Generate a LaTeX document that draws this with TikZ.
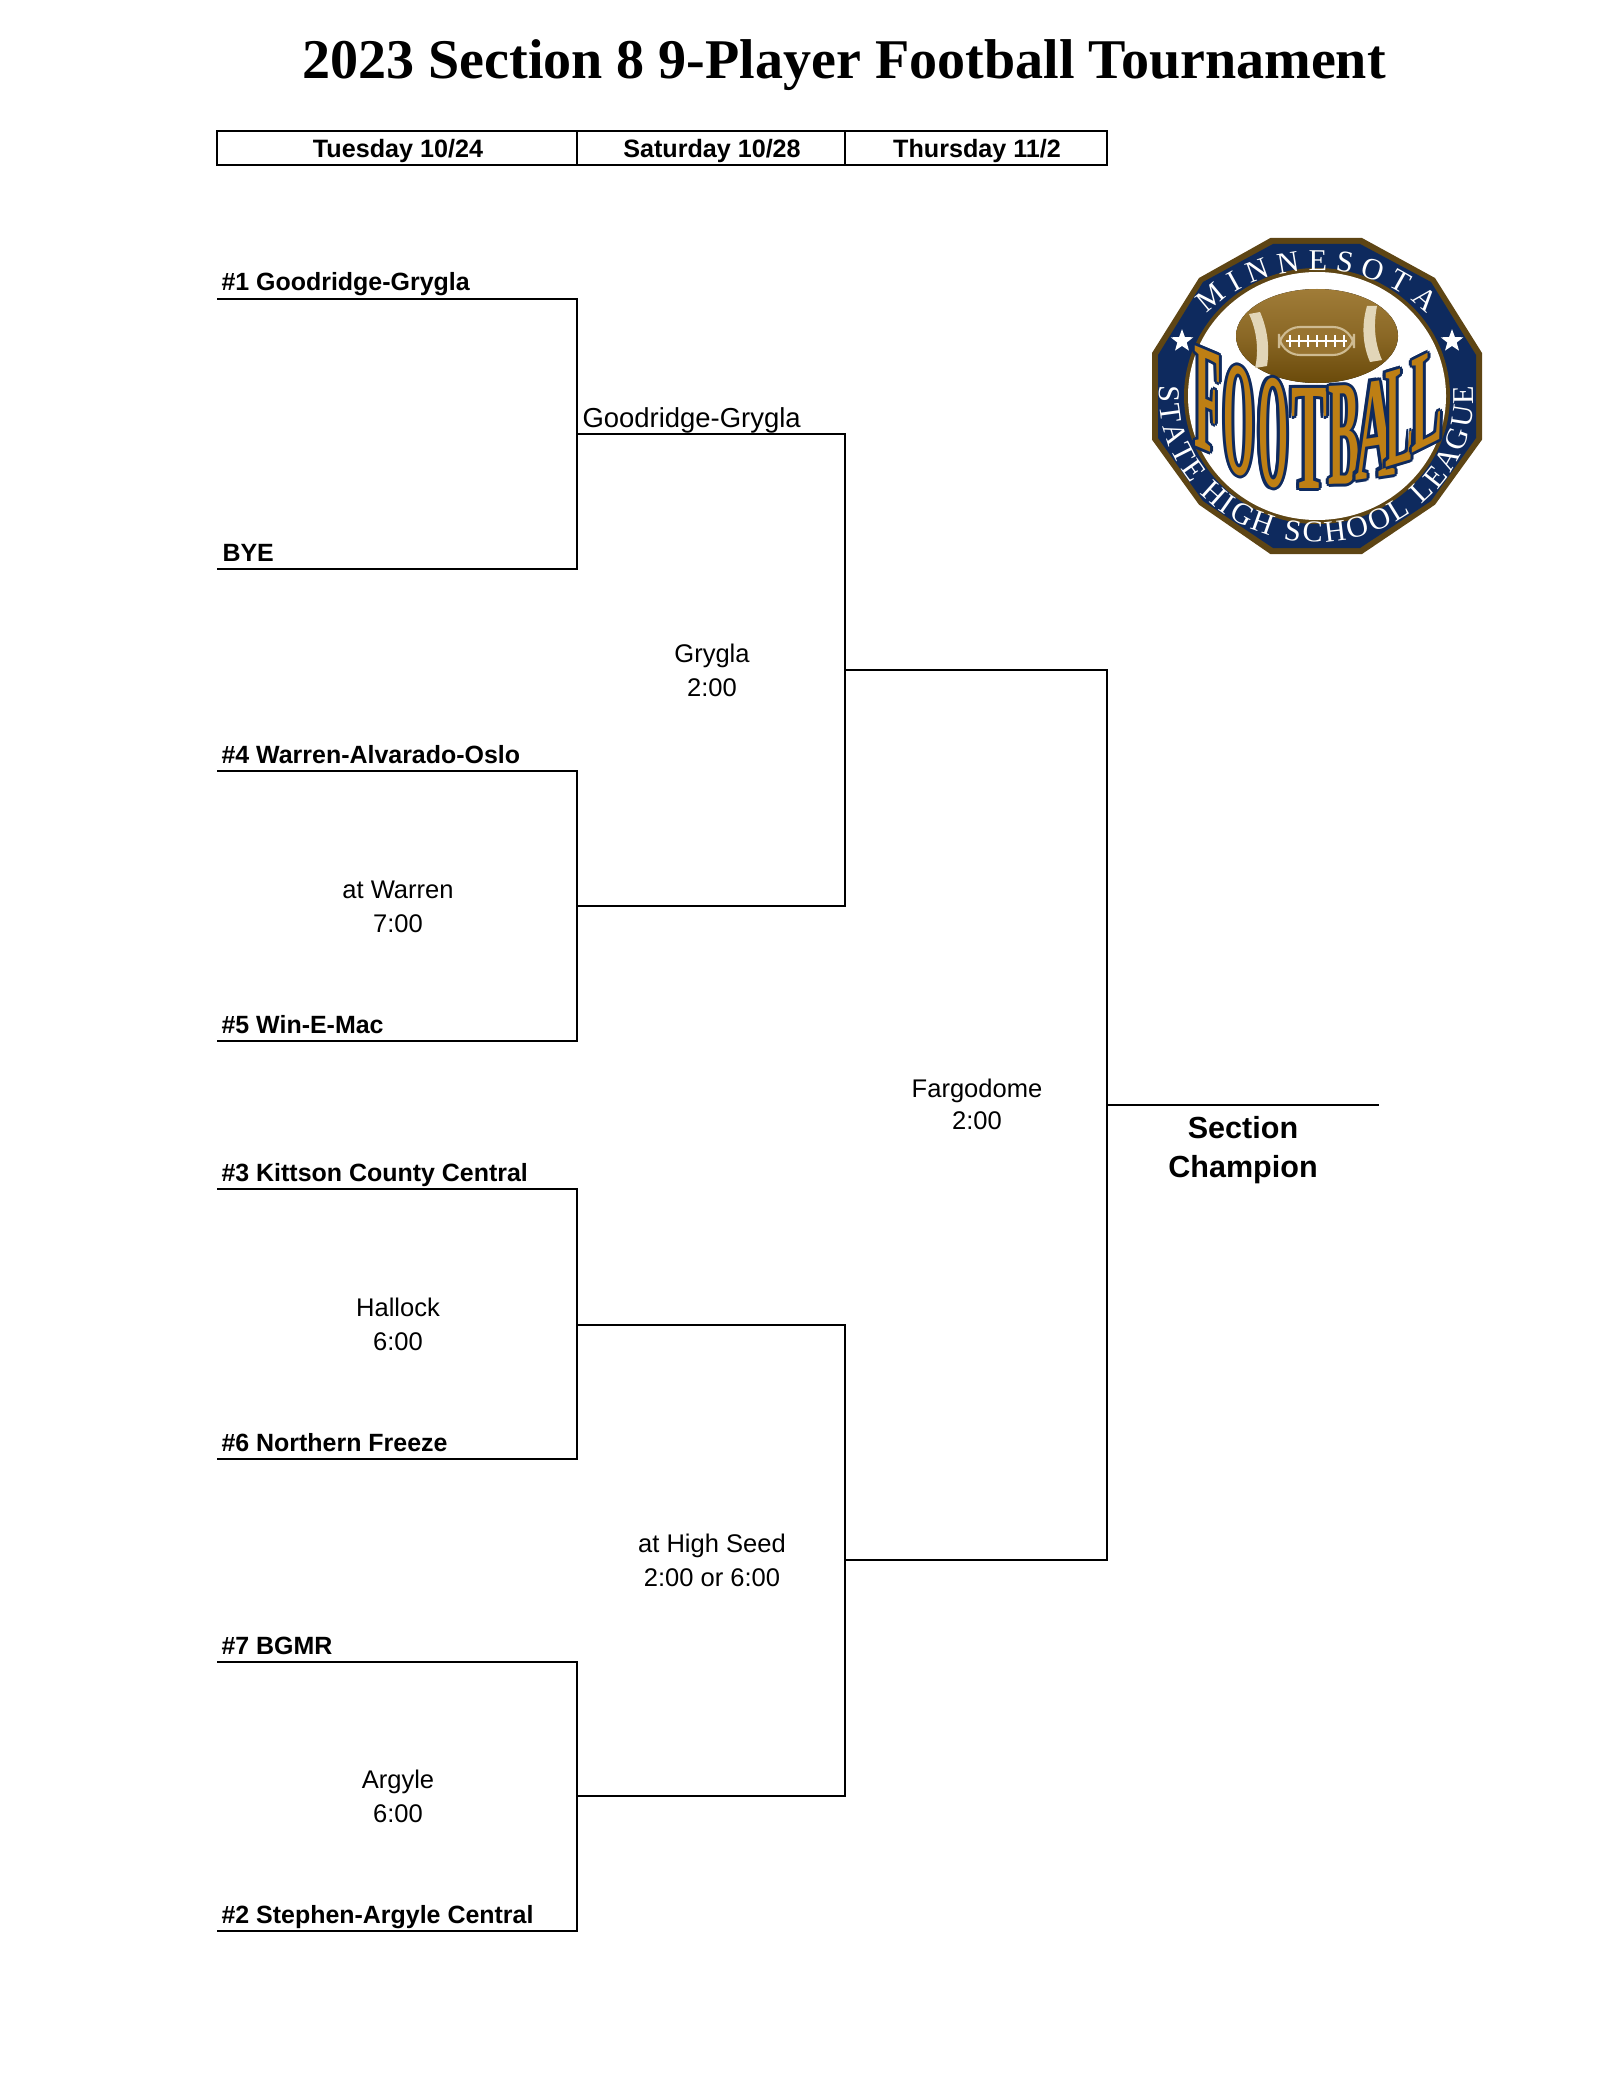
\documentclass[tikz,border=0pt]{standalone}
\usepackage{fontspec}
\setmainfont{Liberation Sans}
\newfontfamily\titlefont{Liberation Serif}
\usetikzlibrary{positioning,calc,shapes.geometric,decorations.text}
\definecolor{navy}{HTML}{0E2A5E}
\definecolor{ringbrown}{HTML}{5E4514}
\definecolor{balltop}{HTML}{A07C38}
\definecolor{ballbot}{HTML}{6A4A0A}
\definecolor{gold}{HTML}{BE7F14}
\definecolor{cream}{HTML}{E2D6B8}
\tikzset{
	seed/.style={anchor=base west,inner sep=0pt,font=\fontsize{9.48}{12}\selectfont\bfseries},
	site/.style={anchor=base,inner sep=0pt,font=\fontsize{9.7}{12}\selectfont},
	day/.style={anchor=base,inner sep=0pt,font=\fontsize{9.55}{12}\selectfont\bfseries},
	bracket/.style={line width=1.05pt,line join=miter},
	logoring/.style={decorate,decoration={text along path,text align={fit to path},text color=white}}
}
% one letter of the logo: name, centre x, centre y, width, height, slant, letter
\newcommand{\logoletter}[7]{
	\foreach \a in {0,45,...,315}
		\node[inner sep=0pt,text=navy,yslant=#6] at ($(#2,#3)+(\a:3)$) {\resizebox{\dimexpr #4pt*38/100\relax}{\dimexpr #5pt*38/100\relax}{\titlefont\bfseries #7}};
	\node[inner sep=0pt,text=gold,yslant=#6] (#1) at (#2,#3) {\resizebox{\dimexpr #4pt*38/100\relax}{\dimexpr #5pt*38/100\relax}{\titlefont\bfseries #7}};
}
\begin{document}
\begin{tikzpicture}[x=0.3799pt,y=-0.3799pt]
		\useasboundingbox (0,0) rectangle (1611,2089);

		\node[anchor=base,inner sep=0pt,font=\fontsize{21.3}{25}\selectfont\titlefont\bfseries] (title) at (844,79) {2023 Section 8 9-Player Football Tournament};

		% header row
		\coordinate (h1) at (217,131);
		\coordinate (h2) at (1107,131);
		\coordinate (h3) at (1107,165);
		\coordinate (h4) at (217,165);
		\coordinate (d1) at (577,131);
		\coordinate (d2) at (577,165);
		\coordinate (d3) at (845,131);
		\coordinate (d4) at (845,165);
		\draw[bracket] (h1) -- (h2) -- (h3) -- (h4) -- cycle;
		\draw[line width=0.7pt] (d1) -- (d2);
		\draw[line width=0.7pt] (d3) -- (d4);
		\node[day] (tue) at (398,158) {Tuesday 10/24};
		\node[day] (sat) at (712,158) {Saturday 10/28};
		\node[day] (thu) at (977,158) {Thursday 11/2};

		% first round
		\coordinate (a1) at (217,299);
		\coordinate (a2) at (577,299);
		\coordinate (a3) at (577,569);
		\coordinate (a4) at (217,569);
		\draw[bracket] (a1) -- (a2) -- (a3) -- (a4);
		\coordinate (b1) at (217,771);
		\coordinate (b2) at (577,771);
		\coordinate (b3) at (577,1041);
		\coordinate (b4) at (217,1041);
		\draw[bracket] (b1) -- (b2) -- (b3) -- (b4);
		\coordinate (c1) at (217,1189);
		\coordinate (c2) at (577,1189);
		\coordinate (c3) at (577,1459);
		\coordinate (c4) at (217,1459);
		\draw[bracket] (c1) -- (c2) -- (c3) -- (c4);
		\coordinate (e1) at (217,1662);
		\coordinate (e2) at (577,1662);
		\coordinate (e3) at (577,1931);
		\coordinate (e4) at (217,1931);
		\draw[bracket] (e1) -- (e2) -- (e3) -- (e4);

		% second round
		\coordinate (f1) at (577,434);
		\coordinate (f2) at (845,434);
		\coordinate (f3) at (845,906);
		\coordinate (f4) at (577,906);
		\draw[bracket] (f1) -- (f2) -- (f3) -- (f4);
		\coordinate (g1) at (577,1325);
		\coordinate (g2) at (845,1325);
		\coordinate (g3) at (845,1796);
		\coordinate (g4) at (577,1796);
		\draw[bracket] (g1) -- (g2) -- (g3) -- (g4);

		% final
		\coordinate (k1) at (845,670);
		\coordinate (k2) at (1107,670);
		\coordinate (k3) at (1107,1560);
		\coordinate (k4) at (845,1560);
		\draw[bracket] (k1) -- (k2) -- (k3) -- (k4);
		\coordinate (w1) at (1107,1105);
		\coordinate (w2) at (1379,1105);
		\draw[bracket] (w1) -- (w2);

		\node[seed] (s1) at (221,291) {\#1 Goodridge-Grygla};
		\node[seed] (bye) at (222,561) {BYE};
		\node[seed] (s4) at (221,763) {\#4 Warren-Alvarado-Oslo};
		\node[seed] (s5) at (221,1033) {\#5 Win-E-Mac};
		\node[seed] (s3) at (221,1181) {\#3 Kittson County Central};
		\node[seed] (s6) at (221,1451) {\#6 Northern Freeze};
		\node[seed] (s7) at (221,1654) {\#7 BGMR};
		\node[seed] (s2) at (221,1923) {\#2 Stephen-Argyle Central};

		\node[anchor=base west,inner sep=0pt,font=\fontsize{10.43}{13}\selectfont] (win) at (582,427) {Goodridge-Grygla};

		\node[site] (p1) at (398,898) {at Warren};
		\node[site] (t1) at (398,932) {7:00};
		\node[site] (p2) at (398,1316) {Hallock};
		\node[site] (t2) at (398,1350) {6:00};
		\node[site] (p3) at (398,1788) {Argyle};
		\node[site] (t3) at (398,1822) {6:00};
		\node[site] (p4) at (712,662) {Grygla};
		\node[site] (t4) at (712,696) {2:00};
		\node[site] (p5) at (712,1552) {at High Seed};
		\node[site] (t5) at (712,1586) {2:00 or 6:00};
		\node[site] (p6) at (977,1097) {Fargodome};
		\node[site] (t6) at (977,1129) {2:00};

		\node[anchor=base,inner sep=0pt,font=\fontsize{11.6}{14}\selectfont\bfseries] (sec) at (1243,1138) {Section};
		\node[anchor=base,inner sep=0pt,font=\fontsize{11.6}{14}\selectfont\bfseries] (cha) at (1243,1177) {Champion};

		% logo
		\coordinate (logo) at (1317,396);
		\begin{scope}[shift={(logo)},x=0.3799pt,y=0.3799pt]
			\fill[ringbrown] (-46.7,158) -- (45,158) -- (118,118) -- (165,43) -- (165,-43.7) -- (118,-108.7) -- (45,-158) -- (-46.7,-158) -- (-118,-108.7) -- (-165,-43.7) -- (-165,43) -- (-118,118) -- cycle;
			\fill[navy] (-44,152) -- (43,152) -- (114,114) -- (159,41) -- (159,-42) -- (114,-105) -- (43,-152) -- (-44,-152) -- (-114,-105) -- (-159,-42) -- (-159,41) -- (-114,114) -- cycle;
			\fill[ringbrown] (0,0) ellipse (133 and 128);
			\fill[white] (0,0) ellipse (129 and 124);
			\path[logoring,decoration={text={|\fontsize{11.5}{14}\selectfont\titlefont|MINNESOTA}}] (-110,82) arc[start angle=139.3,end angle=40.7,x radius=145,y radius=126];
			\path[logoring,decoration={text={|\fontsize{11.5}{14}\selectfont\titlefont|STATE HIGH SCHOOL LEAGUE}}] (-157,10) arc[start angle=176,end angle=364,x radius=157,y radius=146];
			\node[star,star points=5,star point ratio=2.4,fill=white,inner sep=0pt,minimum size=9pt] (stl) at (-135,55) {};
			\node[star,star points=5,star point ratio=2.4,fill=white,inner sep=0pt,minimum size=9pt] (str) at (135,55) {};
			% ball
			\fill[top color=balltop,bottom color=ballbot,middle color=balltop!60!ballbot] (0,60) ellipse (81 and 47);
			\fill[cream] (-68,82) .. controls (-60,65) and (-58,45) .. (-62,28) -- (-50,30) .. controls (-47,50) and (-50,68) .. (-57,84) -- cycle;
			\fill[cream] (50,90) .. controls (44,70) and (46,50) .. (53,34) -- (65,36) .. controls (58,52) and (56,70) .. (60,90) -- cycle;
			\draw[cream!70!balltop,line width=0.8pt,rounded corners=8pt,fill=balltop!85!ballbot] (-38,69) rectangle (37,41);
			\draw[white,line width=0.9pt] (-31,55) -- (30,55);
			\foreach \lx in {-27,-18,...,28}
				\draw[white,line width=0.6pt] (\lx,49) -- (\lx,61);
			% lettering
			\logoletter{lf}{-109}{-5}{27}{100}{-0.42}{F}
			\logoletter{lo}{-78}{-25}{31}{108}{-0.3}{O}
			\logoletter{lp}{-44}{-37}{30}{108}{-0.12}{O}
			\logoletter{lt}{-8}{-42}{36}{100}{0}{T}
			\logoletter{lb}{27}{-39}{31}{98}{0.05}{B}
			\logoletter{la}{58}{-33}{40}{96}{0.15}{A}
			\logoletter{ll}{82}{-20}{28}{94}{0.3}{L}
			\logoletter{lm}{110}{-4}{31}{92}{0.5}{L}
		\end{scope}
	\end{tikzpicture}
\end{document}
